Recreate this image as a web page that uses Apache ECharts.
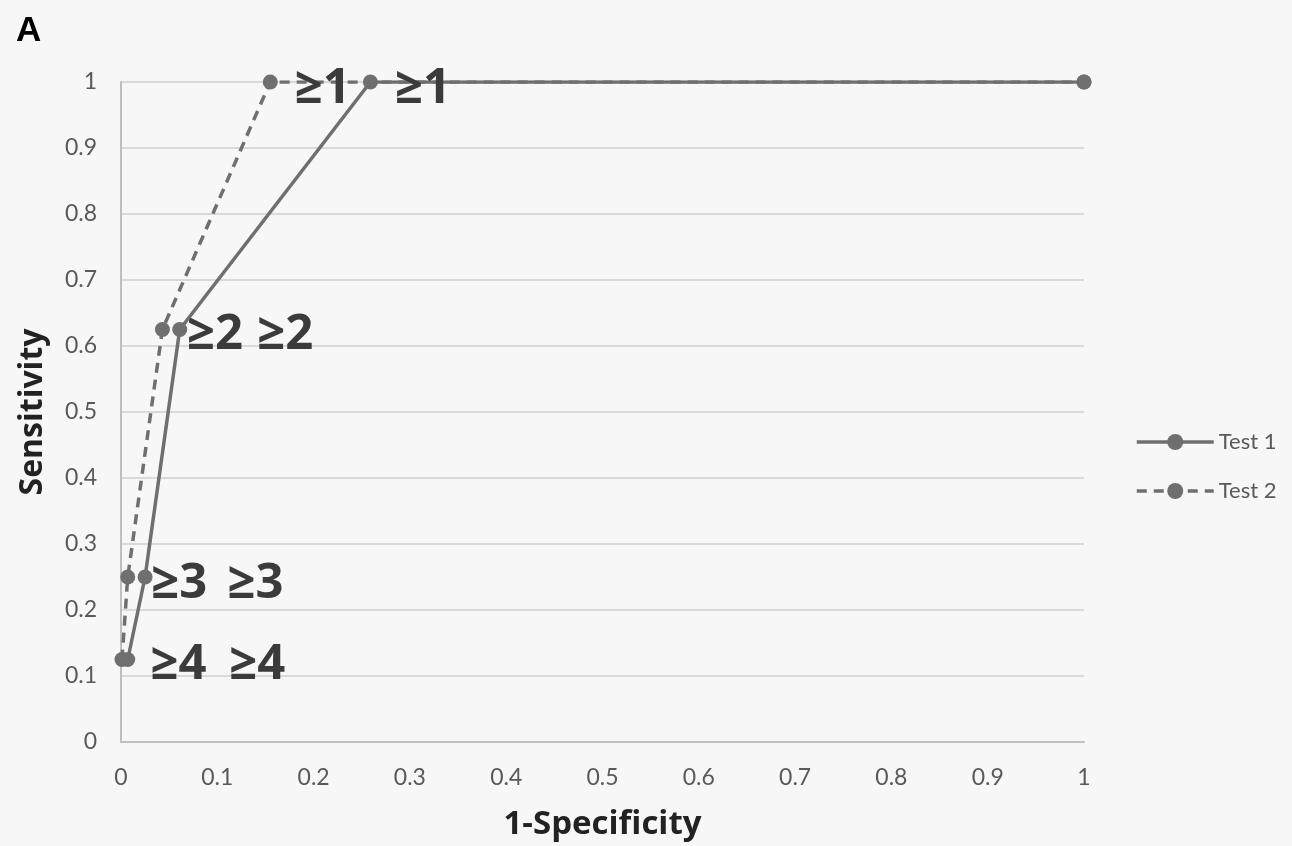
<!DOCTYPE html>
<html>
<head>
<meta charset="utf-8">
<script src="https://cdn.jsdelivr.net/npm/echarts@6/dist/echarts.min.js"></script>
<style>
html,body{margin:0;padding:0;background:#ffffff;}
#chart{width:1292px;height:846px;}
</style>
</head>
<body>
<div id="chart"></div>
<script>
// Data
const seriesNames = ['Test 1', 'Test 2'];
const test1X = [0.007, 0.025, 0.061, 0.259, 1];
const test1Y = [0.125, 0.25, 0.625, 1, 1];
const test1Labels = ['≥4', '≥3', '≥2', '≥1', ''];
const test2X = [0.001, 0.007, 0.043, 0.155, 1];
const test2Y = [0.125, 0.25, 0.625, 1, 1];
const test2Labels = ['≥4', '≥3', '≥2', '≥1', ''];
const axisTicks = [0, 0.1, 0.2, 0.3, 0.4, 0.5, 0.6, 0.7, 0.8, 0.9, 1];

// label offsets (style, not data)
const test1Offsets = [[89, 6], [70, 7], [65, 6], [12, 7], [0, 0]];
const test2Offsets = [[16, 6], [11, 7], [12, 6], [12, 7], [0, 0]];

function build(xs, ys, labels, offs) {
  return xs.map((x, i) => ({
    value: [x, ys[i]],
    label: {
      show: labels[i] !== '',
      formatter: labels[i],
      position: 'right',
      distance: 5,
      offset: offs[i],
      fontSize: 49,
      fontWeight: 'bold',
      fontFamily: 'Open Sans',
      color: '#3b3b3b'
    }
  }));
}

const lineColor = '#6f6f6f';
const tickFmt = v => String(Math.round(v * 10) / 10);
const chart = echarts.init(document.getElementById('chart'));
chart.setOption({
  backgroundColor: '#f7f7f7',
  animation: false,
  title: {
    text: 'A', left: 16, top: 14, padding: 0,
    textStyle: {fontFamily: 'Liberation Sans', fontWeight: 'bold', fontSize: 35, color: '#000'}
  },
  grid: {left: 121, right: 208, top: 82, bottom: 103, containLabel: false},
  legend: {
    orient: 'vertical', left: 1135, top: 431, padding: 0,
    itemWidth: 77, itemHeight: 20, itemGap: 27,
    lineStyle: {width: 3.5},
    textStyle: {fontFamily: 'Lato', fontSize: 22, lineHeight: 22, color: '#595959'},
    data: seriesNames
  },
  xAxis: {
    type: 'value', min: 0, max: 1, interval: 0.1,
    name: '1-Specificity', nameLocation: 'middle', nameGap: 66,
    nameTextStyle: {fontFamily: 'Open Sans', fontWeight: 'bold', fontSize: 33, color: '#222'},
    axisLine: {show: true, lineStyle: {color: '#bfbfbf', width: 2}},
    axisTick: {show: false},
    axisLabel: {fontFamily: 'Lato', fontSize: 23, color: '#595959', margin: 24, formatter: tickFmt},
    splitLine: {show: false}
  },
  yAxis: {
    type: 'value', min: 0, max: 1, interval: 0.1,
    name: 'Sensitivity', nameLocation: 'middle', nameGap: 72, nameRotate: 90,
    nameTextStyle: {fontFamily: 'Open Sans', fontWeight: 'bold', fontSize: 32, color: '#222'},
    axisLine: {show: true, lineStyle: {color: '#bfbfbf', width: 2}},
    axisTick: {show: false},
    axisLabel: {fontFamily: 'Lato', fontSize: 23, color: '#595959', margin: 24, formatter: tickFmt},
    splitLine: {show: true, lineStyle: {color: '#d9d9d9', width: 2}}
  },
  series: [
    {
      name: seriesNames[0], type: 'line', z: 3,
      data: build(test1X, test1Y, test1Labels, test1Offsets),
      symbol: 'circle', symbolSize: 15,
      itemStyle: {color: lineColor},
      lineStyle: {color: lineColor, width: 3.5, type: 'solid'}
    },
    {
      name: seriesNames[1], type: 'line', z: 2,
      data: build(test2X, test2Y, test2Labels, test2Offsets),
      symbol: 'circle', symbolSize: 15,
      itemStyle: {color: lineColor},
      lineStyle: {color: lineColor, width: 3.5, type: [10, 7]}
    }
  ]
});
</script>
</body>
</html>
